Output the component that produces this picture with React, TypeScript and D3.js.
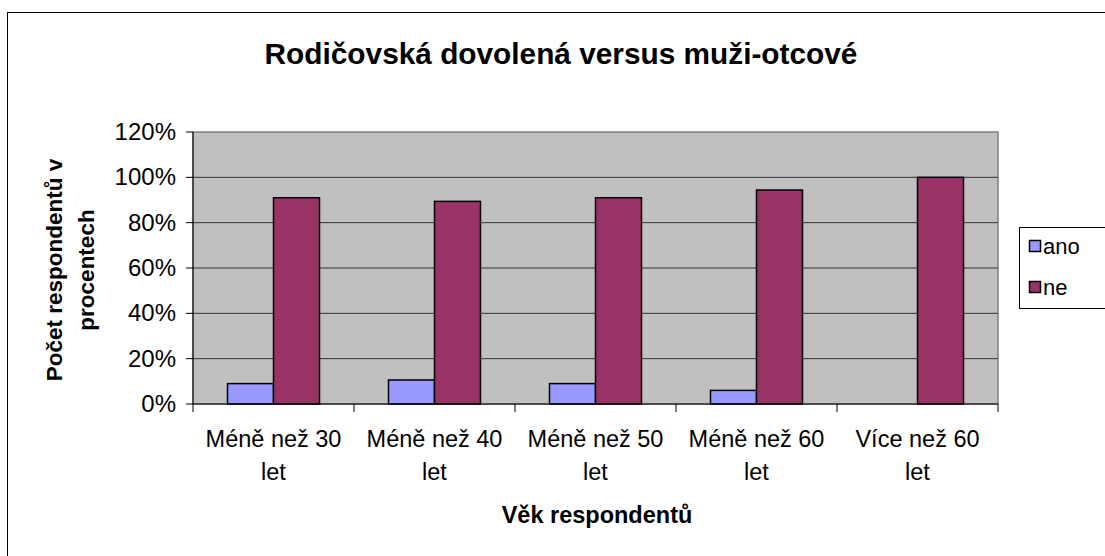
import React from "react";
import * as d3 from "d3";

const categories = ["Méně než 30 let", "Méně než 40 let", "Méně než 50 let", "Méně než 60 let", "Více než 60 let"];
const catLines = [["Méně než 30", "let"], ["Méně než 40", "let"], ["Méně než 50", "let"], ["Méně než 60", "let"], ["Více než 60", "let"]];
const series = ["ano", "ne"];
const ano = [0.09, 0.106, 0.09, 0.06, 0];
const ne = [0.91, 0.894, 0.91, 0.944, 1.0];
const yTicks = [0, 0.2, 0.4, 0.6, 0.8, 1.0, 1.2];
const colors = ["#9999FF", "#993366"];

const W = 1105;
const H = 556;
const plot = { left: 193, right: 998, top: 132, bottom: 404 };
const font = "'Liberation Sans', Arial, sans-serif";

export default function App() {
  const x = d3.scaleBand().domain(categories).range([plot.left, plot.right]).padding(0);
  const y = d3.scaleLinear().domain([0, 1.2]).range([plot.bottom, plot.top]);
  const bw = x.bandwidth() / 3.5;
  const inner = d3.scaleBand().domain(series).range([0.75 * bw, 2.75 * bw]);
  const fmt = d3.format(".0%");
  const values = [ano, ne];

  return (
    <svg width={W} height={H} style={{ position: "absolute", left: 0, top: 0, background: "#fff" }} fontFamily={font}>
      <rect x={7.5} y={12.5} width={1200} height={700} fill="#fff" stroke="#000" strokeWidth={1} />
      <text x={561} y={64} textAnchor="middle" fontSize={29.8} fontWeight="bold">
        Rodičovská dovolená versus muži-otcové
      </text>

      <rect x={plot.left} y={plot.top} width={plot.right - plot.left} height={plot.bottom - plot.top} fill="#C0C0C0" stroke="#808080" strokeWidth={1.5} />
      {yTicks.filter((t) => t > 0 && t < 1.2).map((t) => (
        <line key={t} x1={plot.left} x2={plot.right} y1={y(t)} y2={y(t)} stroke="#333" strokeWidth={1} />
      ))}

      {categories.map((c, i) =>
        series.map((s, j) => {
          const v = values[j][i];
          if (v <= 0) return null;
          return (
            <rect key={c + s} x={(x(c) ?? 0) + (inner(s) ?? 0)} y={y(v)} width={inner.bandwidth()} height={y(0) - y(v)} fill={colors[j]} stroke="#000" strokeWidth={1.5} />
          );
        })
      )}

      {/* axes */}
      <line x1={plot.left} x2={plot.left} y1={plot.top} y2={plot.bottom} stroke="#000" strokeWidth={1} />
      <line x1={plot.left} x2={plot.right} y1={plot.bottom} y2={plot.bottom} stroke="#000" strokeWidth={1} />
      {yTicks.map((t) => (
        <g key={t}>
          <line x1={plot.left - 7} x2={plot.left} y1={y(t)} y2={y(t)} stroke="#000" />
          <text x={176} y={y(t) + 8} textAnchor="end" fontSize={24}>{fmt(t)}</text>
        </g>
      ))}
      {categories.map((c) => (
        <line key={c} x1={x(c)} x2={x(c)} y1={plot.bottom} y2={plot.bottom + 8} stroke="#000" />
      ))}
      <line x1={plot.right} x2={plot.right} y1={plot.bottom} y2={plot.bottom + 8} stroke="#000" />
      {categories.map((c, i) => (
        <text key={c} x={(x(c) ?? 0) + x.bandwidth() / 2} textAnchor="middle" fontSize={23.5}>
          <tspan x={(x(c) ?? 0) + x.bandwidth() / 2} y={447}>{catLines[i][0]}</tspan>
          <tspan x={(x(c) ?? 0) + x.bandwidth() / 2} y={480}>{catLines[i][1]}</tspan>
        </text>
      ))}

      <text x={597} y={523} textAnchor="middle" fontSize={23.5} fontWeight="bold">Věk respondentů</text>
      <g transform={`translate(0, ${(plot.top + plot.bottom) / 2 + 2}) rotate(-90)`}>
        <text x={0} y={62} textAnchor="middle" fontSize={22.5} fontWeight="bold">Počet respondentů v</text>
        <text x={0} y={94} textAnchor="middle" fontSize={22.5} fontWeight="bold">procentech</text>
      </g>

      <rect x={1019.5} y={227.5} width={90} height={81} fill="#fff" stroke="#000" />
      {series.map((s, j) => (
        <g key={s}>
          <rect x={1029.5} y={240.5 + j * 41} width={11} height={11} fill={colors[j]} stroke="#000" strokeWidth={1.5} />
          <text x={1043} y={254 + j * 41} fontSize={22}>{s}</text>
        </g>
      ))}
    </svg>
  );
}
